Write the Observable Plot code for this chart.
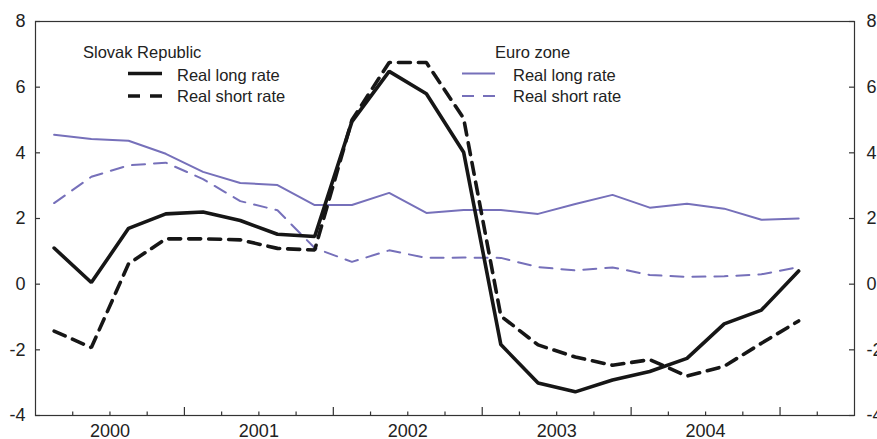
<!DOCTYPE html>
<html><head><meta charset="utf-8">
<script src="https://cdn.jsdelivr.net/npm/d3@7"></script>
<script src="https://cdn.jsdelivr.net/npm/@observablehq/plot@0.6"></script>
<style>
body{margin:0;background:#fff;}
#wrap{width:877px;height:439px;}
</style></head><body><div id="wrap"></div>
<script>
// Quarterly observations, 2000Q1 .. 2005Q1
const quarters = ["2000Q1","2000Q2","2000Q3","2000Q4","2001Q1","2001Q2","2001Q3","2001Q4",
  "2002Q1","2002Q2","2002Q3","2002Q4","2003Q1","2003Q2","2003Q3","2003Q4",
  "2004Q1","2004Q2","2004Q3","2004Q4","2005Q1"];
const slovakLong  = [1.10, 0.05, 1.70, 2.14, 2.20, 1.94, 1.52, 1.45, 4.95, 6.48, 5.80, 4.02,
  -1.84, -3.01, -3.28, -2.92, -2.66, -2.26, -1.21, -0.79, 0.40];
const slovakShort = [-1.43, -1.93, 0.62, 1.38, 1.38, 1.35, 1.09, 1.04, 5.00, 6.75, 6.75, 5.05,
  -0.97, -1.85, -2.22, -2.47, -2.30, -2.80, -2.50, -1.80, -1.12];
const euroLong    = [4.55, 4.42, 4.37, 3.97, 3.42, 3.08, 3.02, 2.41, 2.41, 2.78, 2.17, 2.26,
  2.26, 2.14, 2.44, 2.72, 2.33, 2.45, 2.30, 1.96, 2.00];
const euroShort   = [2.47, 3.27, 3.62, 3.70, 3.20, 2.53, 2.25, 1.10, 0.68, 1.03, 0.80, 0.81,
  0.80, 0.52, 0.42, 0.51, 0.28, 0.22, 0.24, 0.30, 0.52];
const yearLabels = ["2000","2001","2002","2003","2004"];
const yTicks = [-4, -2, 0, 2, 4, 6, 8];
const seriesNames = ["Real long rate", "Real short rate"];
const groupNames = ["Slovak Republic", "Euro zone"];

const W = 877, H = 439, mL = 35, mR = 23, mT = 21, mB = 24;
const nQ = 22; // axis spans 2000Q1 .. 2005Q2
const yMin = -4, yMax = 8;
const pxY = (yMax - yMin) / (H - mT - mB);
const pxX = nQ / (W - mL - mR);
const FONT = "'Liberation Sans', Arial, sans-serif";
const BLACK = "#161616", PURPLE = "#7670ba", AXIS = "#333";

const toRows = arr => arr.map((v, i) => ({q: quarters[i], x: i + 0.5, v}));
const qTicks = d3.range(1, nQ);
const minor = qTicks.filter(t => t % 4 !== 0);
const major = qTicks.filter(t => t % 4 === 0);

const plot = Plot.plot({
  width: W, height: H,
  marginLeft: mL, marginRight: mR, marginTop: mT, marginBottom: mB,
  x: {domain: [0, nQ], axis: null},
  y: {domain: [yMin, yMax], axis: null},
  style: {fontFamily: FONT, background: "white", overflow: "visible"},
  marks: [
    Plot.line(toRows(euroShort), {x: "x", y: "v", stroke: PURPLE, strokeWidth: 2, strokeDasharray: "13,9", strokeLinejoin: "miter"}),
    Plot.line(toRows(euroLong), {x: "x", y: "v", stroke: PURPLE, strokeWidth: 2, strokeLinejoin: "miter"}),
    Plot.line(toRows(slovakShort), {x: "x", y: "v", stroke: BLACK, strokeWidth: 3.6, strokeDasharray: "12,8", strokeLinejoin: "miter"}),
    Plot.line(toRows(slovakLong), {x: "x", y: "v", stroke: BLACK, strokeWidth: 3.6, strokeLinejoin: "miter"}),
    Plot.frame({stroke: AXIS, strokeWidth: 1.2}),
    Plot.ruleX(minor, {x: d => d, y1: yMin, y2: yMin + 3.5 * pxY, stroke: AXIS, strokeWidth: 1.2}),
    Plot.ruleX(major, {x: d => d, y1: yMin, y2: yMin + 8 * pxY, stroke: AXIS, strokeWidth: 1.2}),
    Plot.ruleY(yTicks, {y: d => d, x1: 0, x2: 5 * pxX, stroke: AXIS, strokeWidth: 1.2}),
    Plot.ruleY(yTicks, {y: d => d, x1: nQ - 5 * pxX, x2: nQ, stroke: AXIS, strokeWidth: 1.2}),
    Plot.text(yearLabels, {x: (d, i) => 4 * i + 2, y: yMin, text: d => d, dy: 16, fontSize: 18, fill: "#222"}),
    Plot.text(yTicks, {x: 0, y: d => d, text: d => String(d), dx: -10, textAnchor: "end", fontSize: 18, fill: "#222"}),
    Plot.text(yTicks, {x: nQ, y: d => d, text: d => String(d), dx: 12, textAnchor: "start", fontSize: 18, fill: "#222"})
  ]
});
document.getElementById("wrap").appendChild(plot);

// Legend
const svg = d3.select(plot);
const leg = svg.append("g").attr("font-family", FONT).attr("font-size", 16.5)
  .attr("fill", "#222").attr("text-anchor", "start");
const legendGroups = [
  {name: groupNames[0], tx: 83, lx1: 128, lx2: 162, txt: 177, color: BLACK, w: 3.6, dash: "12,10"},
  {name: groupNames[1], tx: 495, lx1: 462, lx2: 495, txt: 513, color: PURPLE, w: 2, dash: "12,9"}
];
legendGroups.forEach(g => {
  leg.append("text").attr("x", g.tx).attr("y", 58).text(g.name);
  [[73.5, null, 81], [96, g.dash, 102]].forEach(([ly, dash, ty], k) => {
    const l = leg.append("line").attr("x1", g.lx1).attr("x2", g.lx2).attr("y1", ly).attr("y2", ly)
      .attr("stroke", g.color).attr("stroke-width", g.w);
    if (dash) l.attr("stroke-dasharray", dash);
    leg.append("text").attr("x", g.txt).attr("y", ty).text(seriesNames[k]);
  });
});
</script></body></html>
